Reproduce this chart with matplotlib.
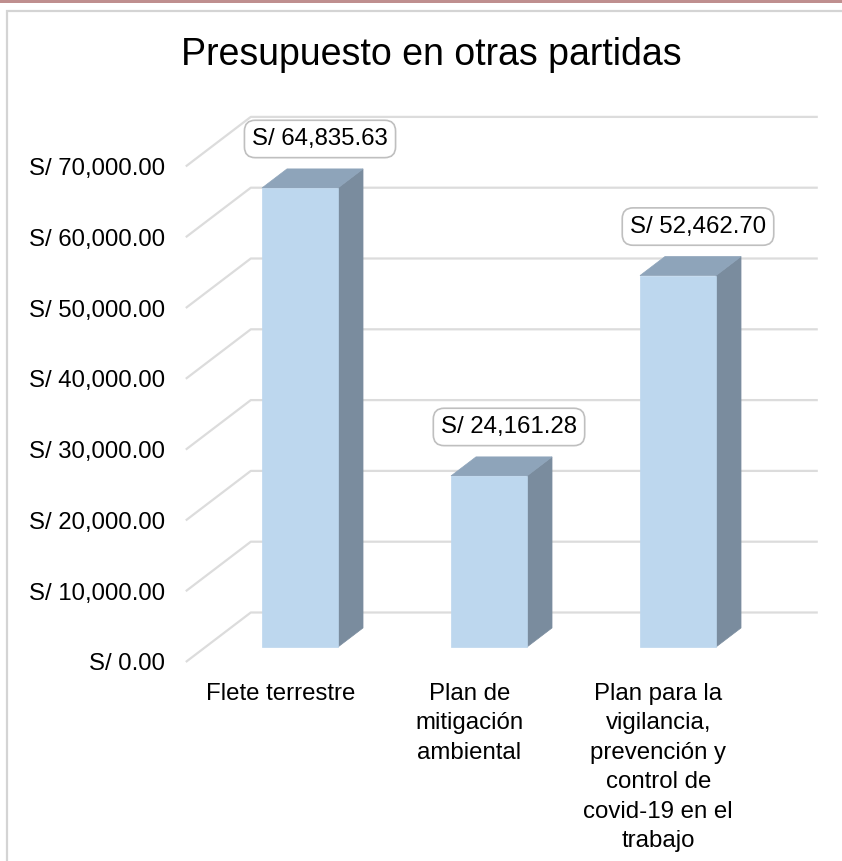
import matplotlib
matplotlib.use("Agg")
import matplotlib.pyplot as plt
from matplotlib.patches import Polygon, Rectangle

plt.rcParams['font.family'] = ['Liberation Sans', 'DejaVu Sans']

# ---- data ----
title = "Presupuesto en otras partidas"
categories = ["Flete terrestre",
              "Plan de\nmitigación\nambiental",
              "Plan para la\nvigilancia,\nprevención y\ncontrol de\ncovid-19 en el\ntrabajo"]
values = [64835.63, 24161.28, 52462.70]
yticks = [0, 10000, 20000, 30000, 40000, 50000, 60000, 70000]

# ---- figure ----
W, H = 842, 861
fig = plt.figure(figsize=(W / 100, H / 100), dpi=100)

# outer decoration
fig.patches.append(Rectangle((0, 1 - 3 / H), 1, 3 / H, transform=fig.transFigure,
                             fc='#BF8F8F', ec='none'))
fig.patches.append(Rectangle((7 / W, -0.1), 1.2, (H - 11) / H + 0.1, transform=fig.transFigure,
                             fill=False, ec='#D4D4D4', lw=1.6))

ax_left, ax_right = 185.8, 752.8
ax_bottom, ax_top = 662.0, 166.4
ax = fig.add_axes([ax_left / W, (H - ax_bottom) / H, (ax_right - ax_left) / W,
                   (ax_bottom - ax_top) / H])
ax.set_xlim(-0.5, 2.5)
ax.set_ylim(0, 70000)
for s in ax.spines.values():
    s.set_visible(False)
ax.patch.set_alpha(0)

px_per_x = (ax_right - ax_left) / 3.0
px_per_v = (ax_bottom - ax_top) / 70000.0
DEPTH_X = 65.0 / px_per_x
DEPTH_Y = 49.5 / px_per_v


def proj(x, v, d):
    return (x + DEPTH_X * d, v + DEPTH_Y * d)


# gridlines (floor diagonal + back wall)
for v in yticks:
    pts = [proj(-0.5, v, 0), proj(-0.5, v, 1), proj(2.5, v, 1)]
    ax.plot([p[0] for p in pts], [p[1] for p in pts], color='#DCDCDC', lw=1.6,
            clip_on=False, zorder=1, solid_capstyle='butt')

# bars
hw = 76.0 / px_per_x / 2
f1, f2 = 0.303, 0.688
front_c, top_c, side_c = '#BDD7EE', '#8EA4BA', '#7A8C9E'
for i, v in enumerate(values):
    front = [proj(i - hw, 0, f1), proj(i + hw, 0, f1), proj(i + hw, v, f1), proj(i - hw, v, f1)]
    top = [proj(i - hw, v, f1), proj(i + hw, v, f1), proj(i + hw, v, f2), proj(i - hw, v, f2)]
    side = [proj(i + hw, 0, f1), proj(i + hw, 0, f2), proj(i + hw, v, f2), proj(i + hw, v, f1)]
    for poly, c in ((side, side_c), (top, top_c), (front, front_c)):
        ax.add_patch(Polygon(poly, closed=True, fc=c, ec=c, lw=0.5, clip_on=False, zorder=2))
    ax.annotate(f"S/ {v:,.2f}", xy=proj(i, v, f1), xytext=(20, 49), textcoords='offset pixels',
                ha='center', va='center', fontsize=17.3, color='#000000', zorder=5,
                annotation_clip=False,
                bbox=dict(boxstyle='round,pad=0.32,rounding_size=0.45', fc='white',
                          ec='#BFBFBF', lw=1.2))

# axes labels
ax.set_yticks(yticks)
ax.set_yticklabels([f"S/ {v:,.2f}" for v in yticks])
ax.set_xticks(range(len(categories)))
ax.set_xticklabels(categories, linespacing=1.44)
ax.tick_params(axis='y', length=0, pad=15, labelsize=17.3, labelcolor='#000000')
ax.tick_params(axis='x', length=0, pad=15, labelsize=17.3, labelcolor='#000000')

fig.text(431 / W, 1 - 55 / H, title, ha='center', va='center', fontsize=27, color='#000000')

fig.savefig("out.png", dpi=100)
